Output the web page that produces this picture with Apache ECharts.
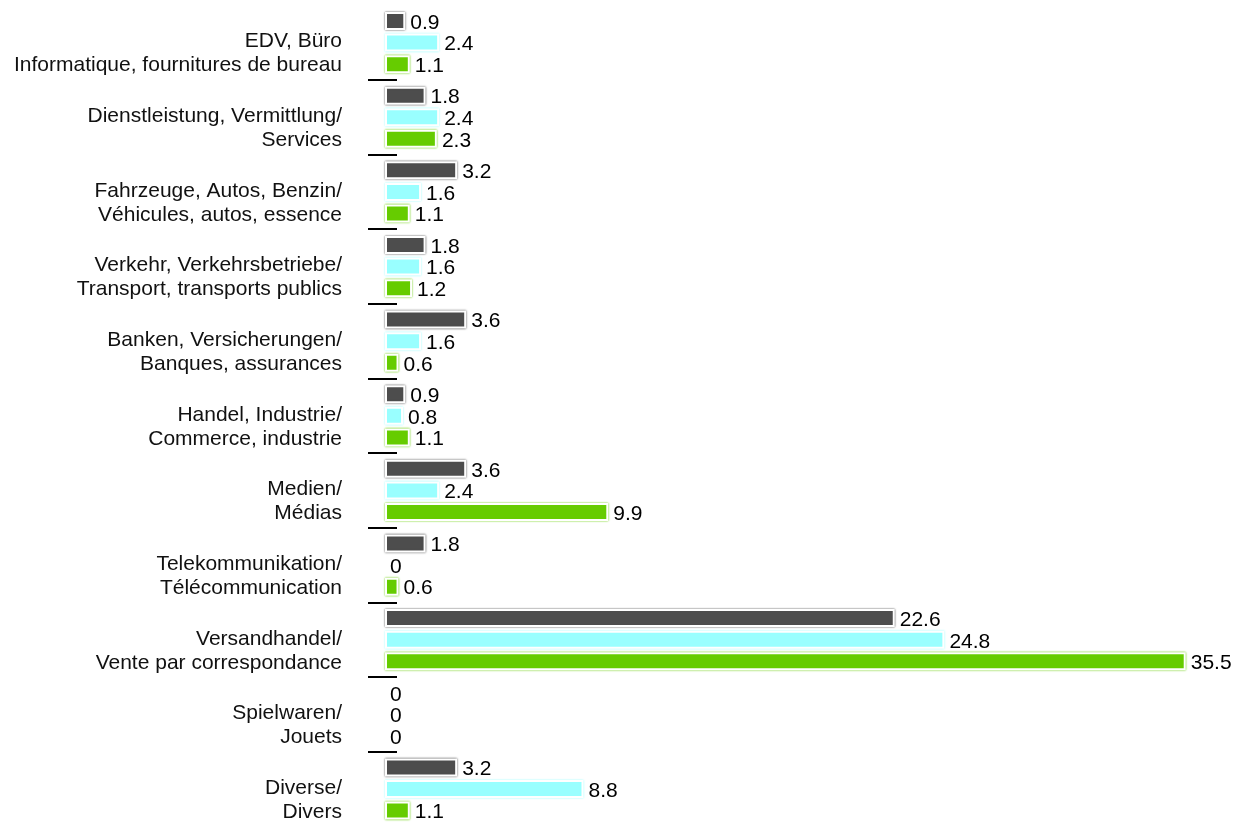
<!DOCTYPE html>
<html>
<head>
<meta charset="utf-8">
<script src="https://cdn.jsdelivr.net/npm/echarts@6/dist/echarts.min.js"></script>
<style>html,body{margin:0;padding:0;background:#fff;}#c{width:1236px;height:822px;}</style>
</head>
<body>
<div id="c"></div>
<script>
const categories = [
  "EDV, Büro\nInformatique, fournitures de bureau",
  "Dienstleistung, Vermittlung/\nServices",
  "Fahrzeuge, Autos, Benzin/\nVéhicules, autos, essence",
  "Verkehr, Verkehrsbetriebe/\nTransport, transports publics",
  "Banken, Versicherungen/\nBanques, assurances",
  "Handel, Industrie/\nCommerce, industrie",
  "Medien/\nMédias",
  "Telekommunikation/\nTélécommunication",
  "Versandhandel/\nVente par correspondance",
  "Spielwaren/\nJouets",
  "Diverse/\nDivers"
];
const seriesA = [0.9, 1.8, 3.2, 1.8, 3.6, 0.9, 3.6, 1.8, 22.6, 0, 3.2];
const seriesB = [2.4, 2.4, 1.6, 1.6, 1.6, 0.8, 2.4, 0, 24.8, 0, 8.8];
const seriesC = [1.1, 2.3, 1.1, 1.2, 0.6, 1.1, 9.9, 0.6, 35.5, 0, 1.1];
const colors = ["#4d4d4d", "#99ffff", "#66cc00"];
const FONT = "'Liberation Sans', Arial, sans-serif";

function mkSeries(data, color) {
  return {
    type: 'bar',
    data: data.map(function (v) {
      return v === 0 ? {value: v, itemStyle: {borderWidth: 0, shadowBlur: 0, opacity: 0}} : v;
    }),
    barWidth: 18,
    barGap: '20%',
    itemStyle: {
      color: color,
      borderColor: '#fff',
      borderWidth: 2,
      shadowColor: color,
      shadowBlur: 2
    },
    label: {
      show: true,
      position: 'right',
      distance: 5,
      offset: [0, 2],
      color: '#000',
      opacity: 1,
      fontSize: 21,
      fontFamily: FONT
    },
    animation: false
  };
}

const chart = echarts.init(document.getElementById('c'), null, {renderer: 'canvas'});
chart.setOption({
  backgroundColor: '#fff',
  animation: false,
  grid: {left: 385, right: 39, top: 5.3, height: 821, containLabel: false, outerBoundsMode: 'none'},
  xAxis: {
    type: 'value', min: 0, max: 36, show: false
  },
  yAxis: [{
    type: 'category',
    data: categories,
    inverse: true,
    axisLine: {show: false},
    axisTick: {
      show: true, length: 17, inside: false,
      interval: function (idx) { return idx !== 0; },
      lineStyle: {color: '#000', width: 2}
    },
    axisLabel: {
      color: '#111', fontSize: 21, fontFamily: FONT, lineHeight: 24,
      margin: 43, align: 'right',
      formatter: function (v) { return '{s|}\n' + v; },
      rich: {s: {lineHeight: 22, fontSize: 10}}
    }
  }, {
    type: 'category',
    data: categories,
    inverse: true,
    position: 'left',
    axisLine: {show: false},
    axisTick: {
      show: true, length: 12, inside: true,
      interval: function (idx) { return idx !== 0; },
      lineStyle: {color: '#000', width: 2}
    },
    axisLabel: {show: false}
  }],
  series: [mkSeries(seriesA, colors[0]), mkSeries(seriesB, colors[1]), mkSeries(seriesC, colors[2])]
});
</script>
</body>
</html>
